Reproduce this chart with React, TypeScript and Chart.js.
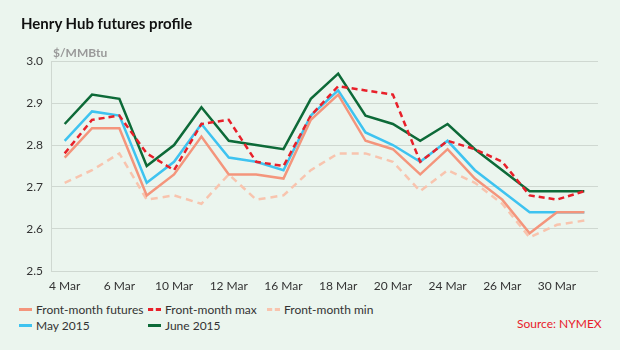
import React, { useEffect, useRef } from "react";
import { Chart, registerables } from "chart.js";

Chart.register(...registerables);

const dates = ["4 Mar", "5 Mar", "6 Mar", "9 Mar", "10 Mar", "11 Mar", "12 Mar", "13 Mar", "16 Mar", "17 Mar", "18 Mar", "19 Mar", "20 Mar", "23 Mar", "24 Mar", "25 Mar", "26 Mar", "27 Mar", "30 Mar", "31 Mar"];
const shownLabels = ["4 Mar", "6 Mar", "10 Mar", "12 Mar", "16 Mar", "18 Mar", "20 Mar", "24 Mar", "26 Mar", "30 Mar"];

const frontMonth = [2.77, 2.84, 2.84, 2.68, 2.73, 2.82, 2.73, 2.73, 2.72, 2.86, 2.92, 2.81, 2.79, 2.73, 2.79, 2.72, 2.67, 2.59, 2.64, 2.64];
const frontMax = [2.78, 2.86, 2.87, 2.78, 2.74, 2.85, 2.86, 2.76, 2.75, 2.87, 2.94, 2.93, 2.92, 2.76, 2.81, 2.79, 2.76, 2.68, 2.67, 2.69];
const frontMin = [2.71, 2.74, 2.78, 2.67, 2.68, 2.66, 2.73, 2.67, 2.68, 2.74, 2.78, 2.78, 2.76, 2.69, 2.74, 2.71, 2.66, 2.58, 2.61, 2.62];
const may2015 = [2.81, 2.88, 2.87, 2.71, 2.76, 2.85, 2.77, 2.76, 2.74, 2.87, 2.93, 2.83, 2.80, 2.76, 2.81, 2.74, 2.69, 2.64, 2.64, 2.64];
const june2015 = [2.85, 2.92, 2.91, 2.75, 2.80, 2.89, 2.81, 2.80, 2.79, 2.91, 2.97, 2.87, 2.85, 2.81, 2.85, 2.79, 2.74, 2.69, 2.69, 2.69];

const FONT = "Lato, 'Open Sans', sans-serif";
const BG = "#ebf5ee";
const C_FRONT = "#f4957c";
const C_MAX = "#e8202a";
const C_MIN = "#f8c4ae";
const C_MAY = "#3ec3f0";
const C_JUNE = "#0d6a38";

const legendItems = [
  { label: "Front-month futures", color: C_FRONT, dash: false, x: 19, y: 309 },
  { label: "Front-month max", color: C_MAX, dash: true, x: 148, y: 309 },
  { label: "Front-month min", color: C_MIN, dash: true, x: 267, y: 309 },
  { label: "May 2015", color: C_MAY, dash: false, x: 19, y: 325 },
  { label: "June 2015", color: C_JUNE, dash: false, x: 148, y: 325 },
];

export default function App() {
  const ref = useRef<HTMLCanvasElement>(null);

  useEffect(() => {
    document.body.style.margin = "0";
    const ctx = ref.current!;
    const chart = new Chart(ctx, {
      type: "line",
      data: {
        labels: dates,
        datasets: [
          { label: "Front-month futures", data: frontMonth, borderColor: C_FRONT, borderWidth: 2.5, pointRadius: 0, tension: 0 },
          { label: "Front-month max", data: frontMax, borderColor: C_MAX, borderWidth: 2.5, borderDash: [6, 4], pointRadius: 0, tension: 0 },
          { label: "Front-month min", data: frontMin, borderColor: C_MIN, borderWidth: 2.5, borderDash: [7, 5], pointRadius: 0, tension: 0 },
          { label: "May 2015", data: may2015, borderColor: C_MAY, borderWidth: 2.5, pointRadius: 0, tension: 0 },
          { label: "June 2015", data: june2015, borderColor: C_JUNE, borderWidth: 2.5, pointRadius: 0, tension: 0 },
        ],
      },
      options: {
        animation: false,
        responsive: false,
        maintainAspectRatio: false,
        layout: { padding: { top: 61, right: 22, left: 0, bottom: 0 } },
        plugins: { legend: { display: false }, tooltip: { enabled: false }, title: { display: false } },
        scales: {
          x: {
            type: "category",
            offset: true,
            grid: { display: false, drawTicks: false },
            border: { display: false },
            ticks: {
              autoSkip: false,
              maxRotation: 0,
              minRotation: 0,
              padding: 8,
              color: "#333",
              font: { family: FONT, size: 12 },
              callback: (_v: any, i: number) => (shownLabels.includes(dates[i]) ? dates[i] : ""),
            },
            afterFit: (s: any) => { s.height = 29; },
          },
          y: {
            min: 2.5,
            max: 3.0,
            grid: { color: "#cfd8d1", lineWidth: 1, drawTicks: false },
            border: { display: true, color: "#cfd8d1" },
            ticks: {
              stepSize: 0.1,
              padding: 8,
              color: "#333",
              font: { family: FONT, size: 12 },
              callback: (v: any) => Number(v).toFixed(1),
            },
            afterFit: (s: any) => { s.width = 51; },
          },
        },
      },
    });
    return () => chart.destroy();
  }, []);

  return (
    <div style={{ position: "relative", width: 620, height: 350, background: BG, overflow: "hidden", fontFamily: FONT }}>
      <canvas ref={ref} width={620} height={300} style={{ position: "absolute", left: 0, top: 0, width: 620, height: 300 }} />
      <div style={{ position: "absolute", left: 21, top: 14, fontSize: 15, fontWeight: 700, color: "#111" }}>Henry Hub futures profile</div>
      <div style={{ position: "absolute", left: 53, top: 45, fontSize: 12, fontWeight: 700, color: "#999" }}>$/MMBtu</div>
      {legendItems.map((it) => (
        <div key={it.label} style={{ position: "absolute", left: it.x, top: it.y - 9, height: 18, display: "flex", alignItems: "center", fontSize: 12, color: "#333", whiteSpace: "nowrap" }}>
          <span style={{ display: "inline-block", width: 13, height: 0, borderTop: it.dash ? `3px dashed ${it.color}` : `3px solid ${it.color}`, marginRight: 4 }} />
          {it.label}
        </div>
      ))}
      <div style={{ position: "absolute", left: 517, top: 316, fontSize: 12, color: "#e8202a", whiteSpace: "nowrap" }}>Source: NYMEX</div>
    </div>
  );
}
